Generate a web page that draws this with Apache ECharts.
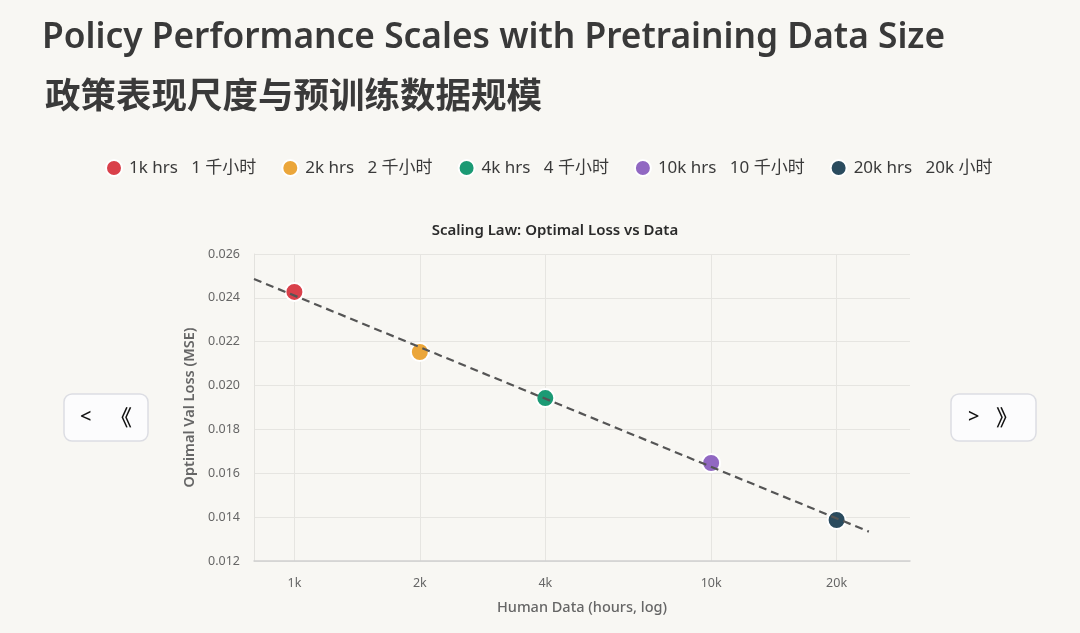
<!DOCTYPE html>
<html>
<head>
<meta charset="utf-8">
<script src="https://cdn.jsdelivr.net/npm/echarts@6/dist/echarts.min.js"></script>
<style>
  html, body { margin: 0; padding: 0; background: #f8f7f3; }
  #chart { width: 1080px; height: 633px; }
</style>
</head>
<body>
<div id="chart"></div>
<script>
// data
const hours = [1000, 2000, 4000, 10000, 20000];
const losses = [0.02427, 0.02153, 0.01943, 0.01647, 0.01387];
const seriesNames = ['1k hrs   1 千小时', '2k hrs   2 千小时', '4k hrs   4 千小时', '10k hrs   10 千小时', '20k hrs   20k 小时'];
const colors = ['#d9404a', '#eba63a', '#1b9a74', '#9168c2', '#2a4b5e'];
const fitHours = [800, 23900];
const fitLoss = [0.02486, 0.01334];
const xTicks = [1000, 2000, 4000, 10000, 20000];
const xTickLabels = ['1k', '2k', '4k', '10k', '20k'];

const FONT = '"Noto Sans", "Noto Sans CJK SC", sans-serif';
const lg = v => Math.log10(v);

const chart = echarts.init(document.getElementById('chart'));

const series = hours.map((h, i) => ({
  name: seriesNames[i],
  type: 'scatter',
  data: [[lg(h), losses[i]]],
  symbolSize: 18,
  itemStyle: { color: colors[i], borderColor: '#ffffff', borderWidth: 2, opacity: 1 },
  z: 2
}));
series.push({
  name: 'fit',
  type: 'line',
  data: fitHours.map((h, i) => [lg(h), fitLoss[i]]),
  showSymbol: false,
  lineStyle: { color: '#555555', width: 2.2, type: [8, 5] },
  z: 5,
  silent: true
});

function button(x, w, a, b, ax, bx) {
  return {
    type: 'group',
    children: [
      { type: 'rect', shape: { x: x, y: 394, width: w, height: 47, r: 8 },
        style: { fill: '#fcfcfd', stroke: '#dcdde3', lineWidth: 1.5 } },
      { type: 'text', x: x + ax, y: 417, style: { text: a, font: '500 20px ' + FONT, fill: '#111', verticalAlign: 'middle' } },
      { type: 'text', x: x + bx, y: 417, style: { text: b, font: '500 22px "Noto Sans CJK SC"', fill: '#111', verticalAlign: 'middle' } }
    ]
  };
}

chart.setOption({
  backgroundColor: '#f8f7f3',
  animation: false,
  textStyle: { fontFamily: FONT },
  title: [
    { text: 'Policy Performance Scales with Pretraining Data Size', left: 37, top: 15,
      textStyle: { fontSize: 35.3, fontWeight: 600, color: '#393939', fontFamily: FONT } },
    { text: '政策表现尺度与预训练数据规模', left: 40, top: 72,
      textStyle: { fontSize: 35.5, fontWeight: 700, color: '#3a3a3a', fontFamily: '"Noto Sans CJK SC"' } },
    { text: 'Scaling Law: Optimal Loss vs Data', left: 550, top: 218, textAlign: 'center',
      textStyle: { fontSize: 15, fontWeight: 600, color: '#2b2b2b', fontFamily: FONT } }
  ],
  legend: {
    top: 154,
    left: 100,
    icon: 'circle',
    itemWidth: 16,
    itemHeight: 16,
    itemGap: 25,
    data: seriesNames,
    textStyle: { fontSize: 17, color: '#3a3a3a', fontFamily: FONT, padding: [0, 0, 0, 2] }
  },
  grid: { left: 254, right: 170, top: 254, bottom: 72 },
  xAxis: {
    type: 'value',
    min: lg(800),
    max: lg(30000),
    name: 'Human Data (hours, log)',
    nameLocation: 'middle',
    nameGap: 40,
    nameTextStyle: { fontSize: 14.5, color: '#666', fontWeight: 500 },
    axisLine: { lineStyle: { color: '#cfcfcf', width: 1.5 } },
    axisTick: { show: false, customValues: xTicks.map(lg) },
    axisLabel: {
      customValues: xTicks.map(lg),
      formatter: v => xTickLabels[xTicks.findIndex(t => Math.abs(lg(t) - v) < 1e-6)] || '',
      color: '#666', fontSize: 12.5, margin: 16
    },
    splitLine: { show: true, lineStyle: { color: '#e6e5e1' } }
  },
  yAxis: {
    type: 'value',
    min: 0.012,
    max: 0.026,
    interval: 0.002,
    name: 'Optimal Val Loss (MSE)',
    nameLocation: 'middle',
    nameGap: 56,
    nameTextStyle: { fontSize: 14.5, color: '#666', fontWeight: 600 },
    axisLine: { show: true, lineStyle: { color: '#e3e2de' } },
    axisTick: { show: false },
    axisLabel: { formatter: v => v.toFixed(3), color: '#666', fontSize: 12.5, margin: 14 },
    splitLine: { lineStyle: { color: '#e6e5e1' } }
  },
  series: series,
  graphic: [
    button(64, 84, '<', '《', 16, 46),
    button(951, 85, '>', '》', 17, 45)
  ]
});
</script>
</body>
</html>
